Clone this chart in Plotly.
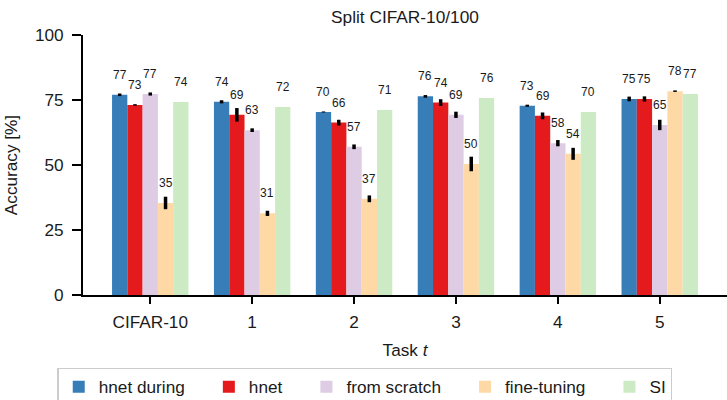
import plotly.graph_objects as go

# Tasks on the x axis
tasks = ["CIFAR-10", "1", "2", "3", "4", "5"]

# Mean test accuracy [%] per method and task
hnet_during = [77.0, 74.3, 70.4, 76.4, 72.8, 75.4]
hnet = [73.1, 69.3, 66.3, 74.0, 68.9, 75.4]
from_scratch = [77.3, 63.4, 57.0, 69.3, 58.4, 65.4]
fine_tuning = [35.4, 31.4, 37.0, 50.4, 54.3, 78.4]
si = [74.2, 72.3, 71.2, 75.8, 70.4, 77.3]

# Standard deviations over runs (SI has none)
hnet_during_std = [0.5, 0.6, 0.2, 0.5, 0.4, 0.9]
hnet_std = [0.3, 2.6, 1.1, 1.3, 1.3, 1.0]
from_scratch_std = [0.6, 0.7, 0.9, 1.2, 1.2, 2.0]
fine_tuning_std = [2.4, 1.0, 1.3, 2.8, 2.3, 0.3]

series = [
    ("hnet during", hnet_during, hnet_during_std, "#377eb8"),
    ("hnet", hnet, hnet_std, "#e41a1c"),
    ("from scratch", from_scratch, from_scratch_std, "#decbe4"),
    ("fine-tuning", fine_tuning, fine_tuning_std, "#fed9a6"),
    ("SI", si, None, "#ccebc5"),
]

bar_w = 0.15
n = len(series)
FONT = "Liberation Sans, Arial, Helvetica, sans-serif"
TXT = "#1a1a1a"
FS = 17.2
PAD = "\u00a0" * 4  # extra room between legend entries

fig = go.Figure()
annotations = []
for k, (name, vals, err, color) in enumerate(series):
    offset = (k - (n - 1) / 2) * bar_w
    xs = [i + offset for i in range(len(tasks))]
    err_cfg = dict(visible=False)
    if err is not None:
        err_cfg = dict(type="data", array=err, visible=True,
                       color="black", thickness=3.5, width=0)
    label = name if k == n - 1 else name + PAD
    fig.add_trace(go.Bar(
        x=xs, y=vals, width=bar_w, name=label,
        marker=dict(color=color, line=dict(width=0)),
        error_y=err_cfg,
    ))
    for x, v in zip(xs, vals):
        annotations.append(dict(
            x=x, y=v, xref="x", yref="y", text=f"{v:.0f}",
            showarrow=False, yshift=20, yanchor="middle",
            font=dict(size=12, color=TXT, family=FONT),
        ))

fig.update_layout(
    width=727, height=400,
    margin=dict(l=83, r=0, t=35, b=105, autoexpand=False),
    paper_bgcolor="white", plot_bgcolor="white",
    barmode="overlay",
    font=dict(family=FONT, size=FS, color=TXT),
    title=dict(text="Split CIFAR-10/100", x=0.5, xref="paper",
               y=0.957, yanchor="middle", font=dict(size=17.3, color=TXT)),
    annotations=annotations,
    showlegend=True,
    legend=dict(
        orientation="h", x=-0.04, xanchor="left", y=-0.279, yanchor="top",
        bordercolor="#cccccc", borderwidth=1.5,
        font=dict(size=FS, color=TXT), traceorder="normal",
    ),
)

fig.update_xaxes(
    range=[-0.66, 5.66], tickmode="array",
    tickvals=list(range(len(tasks))), ticktext=tasks,
    showline=True, linecolor="black", linewidth=1.8,
    ticks="outside", ticklen=7, tickwidth=1.8, tickcolor="black",
    ticklabelstandoff=3,
    showgrid=False, zeroline=False,
    tickfont=dict(size=FS),
    title=dict(text="Task <i>t</i>", font=dict(size=FS), standoff=13),
)
fig.update_yaxes(
    range=[0, 100], tickvals=[0, 25, 50, 75, 100],
    showline=True, linecolor="black", linewidth=1.8,
    ticks="outside", ticklen=9, tickwidth=1.8, tickcolor="black",
    ticklabelstandoff=5,
    showgrid=False, zeroline=False,
    tickfont=dict(size=FS),
    title=dict(text="Accuracy [%]", font=dict(size=FS), standoff=13),
)

fig.write_html("out.html")
